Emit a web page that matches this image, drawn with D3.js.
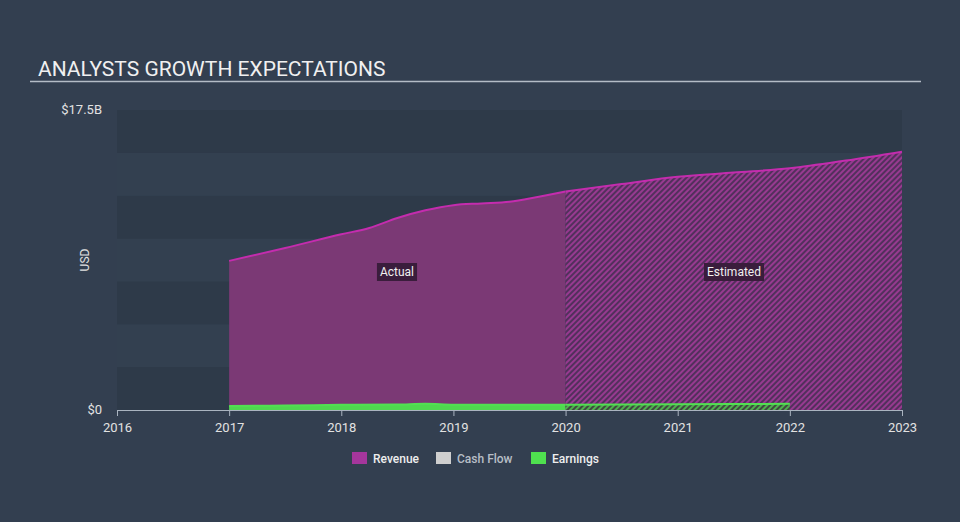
<!DOCTYPE html>
<html>
<head>
<meta charset="utf-8">
<script src="https://cdn.jsdelivr.net/npm/d3@7"></script>
<style>
  body { margin: 0; background: #333f50; }
  svg { display: block; font-family: Roboto, "Open Sans", sans-serif; }
</style>
</head>
<body>
<svg id="chart" width="960" height="522"></svg>
<script>
// revenue, billions (actual then estimated)
var revActualYears = [2017, 2017.5, 2018, 2018.25, 2018.5, 2018.75, 2019, 2019.25, 2019.5, 2019.75, 2020]
var revActualVals  = [8.7, 9.45, 10.25, 10.62, 11.2, 11.65, 11.95, 12.05, 12.15, 12.43, 12.75]
var revEstYears = [2020, 2020.5, 2021, 2021.5, 2022, 2022.5, 2023]
var revEstVals  = [12.75, 13.18, 13.6, 13.85, 14.1, 14.55, 15.07]

var earnActualYears = [2017, 2017.5, 2018, 2018.5, 2018.75, 2019, 2019.5, 2020]
var earnActualVals  = [0.24, 0.26, 0.3, 0.32, 0.36, 0.31, 0.3, 0.3]
var earnEstYears = [2020, 2021, 2022]
var earnEstVals  = [0.3, 0.33, 0.36]

var xTicks = [2016, 2017, 2018, 2019, 2020, 2021, 2022, 2023]
var yMax = 17.5
var legendNames = ["Revenue", "Cash Flow", "Earnings"]
var legendColors = ["#a5369c", "#cfcfcf", "#4fe04f"]

var svg = d3.select("#chart")

var plotL = 117, plotR = 902, plotT = 110, plotB = 410

var x = d3.scaleLinear().domain([2016, 2023]).range([plotL, plotR])
var y = d3.scaleLinear().domain([0, yMax]).range([plotB, plotT])

// hatch patterns
var defs = svg.append("defs")
var hatch = defs.append("pattern")
    .attr("id", "hatchRev")
    .attr("patternUnits", "userSpaceOnUse")
    .attr("width", 4).attr("height", 4)
    .attr("patternTransform", "rotate(45)")
hatch.append("rect").attr("width", 4).attr("height", 4).attr("fill", "#52305c")
hatch.append("rect").attr("width", 2).attr("height", 4).attr("fill", "#973a90")

var hatchG = defs.append("pattern")
    .attr("id", "hatchEarn")
    .attr("patternUnits", "userSpaceOnUse")
    .attr("width", 4).attr("height", 4)
    .attr("patternTransform", "rotate(45)")
hatchG.append("rect").attr("width", 4).attr("height", 4).attr("fill", "#3e4a3e")
hatchG.append("rect").attr("width", 2).attr("height", 4).attr("fill", "#4fb04f")

// title
svg.append("text")
    .attr("x", 38).attr("y", 76)
    .attr("fill", "#f0f0f0")
    .attr("font-size", 21)
    .text("ANALYSTS GROWTH EXPECTATIONS")
svg.append("line")
    .attr("x1", 30).attr("x2", 921)
    .attr("y1", 81.5).attr("y2", 81.5)
    .attr("stroke", "#b4bcc6").attr("stroke-width", 1.5)

// background bands
var bandStep = 2.5
var bands = d3.range(0, yMax, bandStep)
svg.selectAll(".band")
    .data(bands)
    .enter()
    .append("rect")
    .attr("x", plotL)
    .attr("width", plotR - plotL)
    .attr("y", function (d) { return y(d + bandStep) })
    .attr("height", function (d) { return y(d) - y(d + bandStep) })
    .attr("fill", function (d, i) { return i % 2 == 0 ? "#2e3a49" : "#334050" })

// revenue
var area = d3.area()
    .x(function (d) { return x(d[0]) })
    .y0(y(0))
    .y1(function (d) { return y(d[1]) })
    .curve(d3.curveMonotoneX)
var line = d3.line()
    .x(function (d) { return x(d[0]) })
    .y(function (d) { return y(d[1]) })
    .curve(d3.curveMonotoneX)

var revA = d3.zip(revActualYears, revActualVals)
var revE = d3.zip(revEstYears, revEstVals)

svg.append("path").attr("d", area(revA)).attr("fill", "#7b3975")
svg.append("path").attr("d", area(revE)).attr("fill", "url(#hatchRev)")
svg.append("path").attr("d", line(revA)).attr("fill", "none").attr("stroke", "#c42cae").attr("stroke-width", 2)
svg.append("path").attr("d", line(revE)).attr("fill", "none").attr("stroke", "#c42cae").attr("stroke-width", 2)

// earnings
var earnA = d3.zip(earnActualYears, earnActualVals)
var earnE = d3.zip(earnEstYears, earnEstVals)
svg.append("path").attr("d", area(earnA)).attr("fill", "#4fd84f")
svg.append("path").attr("d", area(earnE)).attr("fill", "url(#hatchEarn)")
svg.append("path").attr("d", line(earnA)).attr("fill", "none").attr("stroke", "#52e052").attr("stroke-width", 2)
svg.append("path").attr("d", line(earnE)).attr("fill", "none").attr("stroke", "#52e052").attr("stroke-width", 2)

// x axis
var xAxis = svg.append("g")
    .attr("transform", "translate(0," + plotB + ")")
    .call(d3.axisBottom(x).tickValues(xTicks).tickFormat(d3.format("d")).tickSizeOuter(0).tickSize(6))
xAxis.select(".domain").attr("stroke", "#aab4c0")
xAxis.selectAll(".tick line").attr("stroke", "#aab4c0")
xAxis.selectAll(".tick text")
    .attr("fill", "#e2e2e2")
    .attr("font-size", 13)
    .attr("font-family", "Roboto, sans-serif")
    .attr("dy", "1em")

// y labels
var yLabels = [0, yMax]
svg.selectAll(".ylab")
    .data(yLabels)
    .enter()
    .append("text")
    .attr("x", 102)
    .attr("y", function (d) { return y(d) + 4 })
    .attr("text-anchor", "end")
    .attr("fill", "#e2e2e2")
    .attr("font-size", 13)
    .text(function (d) { return d == 0 ? "$0" : "$" + d + "B" })

svg.append("text")
    .attr("transform", "translate(89,260) rotate(-90)")
    .attr("text-anchor", "middle")
    .attr("fill", "#e2e2e2")
    .attr("font-size", 12)
    .text("USD")

// labels
function tag(txt, cx, cy) {
    var t = svg.append("text")
        .attr("x", cx).attr("y", cy + 4)
        .attr("text-anchor", "middle")
        .attr("fill", "#f0f0f0")
        .attr("font-size", 12)
        .text(txt)
    var bb = t.node().getBBox()
    svg.insert("rect", function () { return t.node() })
        .attr("x", bb.x - 3).attr("y", cy - 9)
        .attr("width", bb.width + 6).attr("height", 18)
        .attr("fill", "#3a1d3c")
}
tag("Actual", 397, 272)
tag("Estimated", 734, 272)

// legend
var legendX = [352, 436, 531]
var lg = svg.selectAll(".legend")
    .data(legendNames)
    .enter()
    .append("g")
    .attr("transform", function (d, i) { return "translate(" + legendX[i] + ",452)" })
lg.append("rect")
    .attr("width", 15).attr("height", 12)
    .attr("fill", function (d, i) { return legendColors[i] })
lg.append("text")
    .attr("x", 21).attr("y", 10.5)
    .attr("fill", function (d, i) { return i == 1 ? "#b8bec6" : "#eeeeee" })
    .attr("font-size", 12)
    .attr("font-weight", 500)
    .text(function (d) { return d })
</script>
</body>
</html>
